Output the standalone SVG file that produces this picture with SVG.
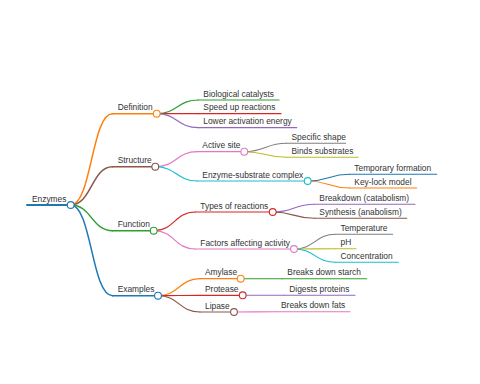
<svg xmlns="http://www.w3.org/2000/svg" width="480" height="384" viewBox="0 0 480 384">
<style>
text{font-family:"Liberation Sans",Arial,sans-serif;font-size:8.4px;fill:#333}
.l{fill:none;stroke-linecap:round}
.d1{stroke-width:1.5}
.d2{stroke-width:1.2}
.d3{stroke-width:1.1}
circle{fill:#fff;stroke-width:1.1}
.c0{stroke:#1f77b4}.c1{stroke:#ff7f0e}.c2{stroke:#2ca02c}.c3{stroke:#d62728}.c4{stroke:#9467bd}
.c5{stroke:#8c564b}.c6{stroke:#e377c2}.c7{stroke:#7f7f7f}.c8{stroke:#bcbd22}.c9{stroke:#17becf}
</style>
<rect width="480" height="384" fill="#fff"/>
<g id="connectors">
<path class="l d1 c1" d="M70.7,205 C91.6,205 91.6,113.7 112.5,113.7"/>
<path class="l d1 c5" d="M70.7,205 C91.6,205 91.6,166.7 112.5,166.7"/>
<path class="l d1 c2" d="M70.7,205 C91.6,205 91.6,230.7 112.5,230.7"/>
<path class="l d1 c0" d="M70.7,205 C91.6,205 91.6,295.7 112.5,295.7"/>
<path class="l d2 c2" d="M156.7,113.7 C177.5,113.7 177.5,100 198.3,100"/>
<path class="l d2 c3" d="M156.7,113.7 C177.5,113.7 177.5,113.7 198.3,113.7"/>
<path class="l d2 c4" d="M156.7,113.7 C177.5,113.7 177.5,127.7 198.3,127.7"/>
<path class="l d2 c6" d="M155.3,166.7 C176.3,166.7 176.3,151.7 197.3,151.7"/>
<path class="l d2 c9" d="M155.3,166.7 C176.3,166.7 176.3,181 197.3,181"/>
<path class="l d2 c3" d="M153.7,230.7 C174.5,230.7 174.5,212 195.3,212"/>
<path class="l d2 c6" d="M153.7,230.7 C174.5,230.7 174.5,249 195.3,249"/>
<path class="l d2 c1" d="M158,295.7 C179,295.7 179,278.7 200,278.7"/>
<path class="l d2 c3" d="M158,295.7 C179,295.7 179,295.3 200,295.3"/>
<path class="l d2 c5" d="M158,295.7 C179,295.7 179,312 200,312"/>
<path class="l d3 c7" d="M244.3,151.7 C265.4,151.7 265.4,143.3 286.5,143.3"/>
<path class="l d3 c8" d="M244.3,151.7 C265.4,151.7 265.4,157.3 286.5,157.3"/>
<path class="l d3 c0" d="M307.7,181 C328.6,181 328.6,174.3 349.5,174.3"/>
<path class="l d3 c1" d="M307.7,181 C328.6,181 328.6,188 349.5,188"/>
<path class="l d3 c4" d="M272.7,212 C293.6,212 293.6,204.3 314.5,204.3"/>
<path class="l d3 c5" d="M272.7,212 C293.6,212 293.6,218.3 314.5,218.3"/>
<path class="l d3 c7" d="M294,249 C314.9,249 314.9,234.3 335.8,234.3"/>
<path class="l d3 c8" d="M294,249 C314.9,249 314.9,248.7 335.8,248.7"/>
<path class="l d3 c9" d="M294,249 C314.9,249 314.9,262.3 335.8,262.3"/>
<path class="l d3 c2" d="M240.7,278.7 L282.3,278.7"/>
<path class="l d3 c4" d="M242.7,295.3 L284.3,295.3"/>
<path class="l d3 c6" d="M234,312 C255,312 255,311.7 276,311.7"/>
</g>
<g id="n-enzymes"><path class="l c0" stroke-width="2" d="M27,205 H70.7"/><text x="32" y="201.5">Enzymes</text><circle class="c0" cx="70.7" cy="205" r="3.4"/></g>
<g id="n-definition"><path class="l d1 c1" d="M112.5,113.7 H156.7"/><text x="117.7" y="110.3">Definition</text><circle class="c1" cx="156.7" cy="113.7" r="3.4"/></g>
<g id="n-structure"><path class="l d1 c5" d="M112.5,166.7 H155.3"/><text x="117.7" y="163.3">Structure</text><circle class="c5" cx="155.3" cy="166.7" r="3.4"/></g>
<g id="n-function"><path class="l d1 c2" d="M112.5,230.7 H153.7"/><text x="117.7" y="227.3">Function</text><circle class="c2" cx="153.7" cy="230.7" r="3.4"/></g>
<g id="n-examples"><path class="l d1 c0" d="M112.5,295.7 H158"/><text x="117.7" y="292.3">Examples</text><circle class="c0" cx="158" cy="295.7" r="3.4"/></g>
<g id="n-bio"><path class="l d2 c2" d="M198.3,100 H279"/><text x="203.3" y="96.6">Biological catalysts</text></g>
<g id="n-speed"><path class="l d2 c3" d="M198.3,113.7 H281"/><text x="203.3" y="110.3">Speed up reactions</text></g>
<g id="n-lower"><path class="l d2 c4" d="M198.3,127.7 H296.7"/><text x="203.3" y="124.3">Lower activation energy</text></g>
<g id="n-active"><path class="l d2 c6" d="M197.3,151.7 H244.3"/><text x="202.3" y="148.3">Active site</text><circle class="c6" cx="244.3" cy="151.7" r="3.4"/></g>
<g id="n-esc"><path class="l d2 c9" d="M197.3,181 H307.7"/><text x="202.3" y="177.6">Enzyme-substrate complex</text><circle class="c9" cx="307.7" cy="181" r="3.4"/></g>
<g id="n-types"><path class="l d2 c3" d="M195.3,212 H272.7"/><text x="200.3" y="208.6">Types of reactions</text><circle class="c3" cx="272.7" cy="212" r="3.4"/></g>
<g id="n-factors"><path class="l d2 c6" d="M195.3,249 H294"/><text x="200.3" y="245.6">Factors affecting activity</text><circle class="c6" cx="294" cy="249" r="3.4"/></g>
<g id="n-amylase"><path class="l d2 c1" d="M200,278.7 H240.7"/><text x="205" y="275.3">Amylase</text><circle class="c1" cx="240.7" cy="278.7" r="3.4"/></g>
<g id="n-protease"><path class="l d2 c3" d="M200,295.3 H242.7"/><text x="205" y="291.9">Protease</text><circle class="c3" cx="242.7" cy="295.3" r="3.4"/></g>
<g id="n-lipase"><path class="l d2 c5" d="M200,312 H234"/><text x="205" y="308.6">Lipase</text><circle class="c5" cx="234" cy="312" r="3.4"/></g>
<g id="n-specific"><path class="l d3 c7" d="M286.5,143.3 H345.7"/><text x="291.5" y="139.9">Specific shape</text></g>
<g id="n-binds"><path class="l d3 c8" d="M286.5,157.3 H358.3"/><text x="291.5" y="153.9">Binds substrates</text></g>
<g id="n-temporary"><path class="l d3 c0" d="M349.5,174.3 H436.7"/><text x="354.3" y="170.9">Temporary formation</text></g>
<g id="n-keylock"><path class="l d3 c1" d="M349.5,188 H416.7"/><text x="354.3" y="184.6">Key-lock model</text></g>
<g id="n-breakdown"><path class="l d3 c4" d="M314.5,204.3 H415"/><text x="319.3" y="200.9">Breakdown (catabolism)</text></g>
<g id="n-synthesis"><path class="l d3 c5" d="M314.5,218.3 H406.7"/><text x="319.3" y="214.9">Synthesis (anabolism)</text></g>
<g id="n-temperature"><path class="l d3 c7" d="M335.8,234.3 H392.7"/><text x="340.5" y="230.9">Temperature</text></g>
<g id="n-ph"><path class="l d3 c8" d="M335.8,248.7 H356"/><text x="340.5" y="245.3">pH</text></g>
<g id="n-concentration"><path class="l d3 c9" d="M335.8,262.3 H398.3"/><text x="340.5" y="258.9">Concentration</text></g>
<g id="n-starch"><path class="l d3 c2" d="M282.3,278.7 H366.7"/><text x="287.3" y="275.3">Breaks down starch</text></g>
<g id="n-proteins"><path class="l d3 c4" d="M284.3,295.3 H355"/><text x="289.3" y="291.9">Digests proteins</text></g>
<g id="n-fats"><path class="l d3 c6" d="M276,311.7 H350"/><text x="281" y="308.3">Breaks down fats</text></g>
</svg>
